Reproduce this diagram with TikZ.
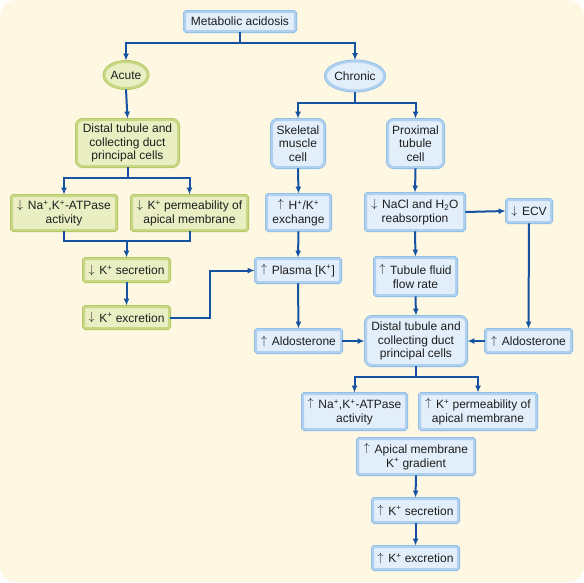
\documentclass[tikz,border=0pt]{standalone}
\usepackage{fontspec}
\setmainfont{Liberation Sans}
\usetikzlibrary{arrows.meta,shapes.geometric}
\definecolor{cream}{HTML}{FEF8E3}
\definecolor{bfill}{HTML}{E2EEFA}
\definecolor{bline}{HTML}{AFD0EF}
\definecolor{bdark}{HTML}{86B6E4}
\definecolor{gfill}{HTML}{EAEEC3}
\definecolor{gline}{HTML}{C8D783}
\definecolor{gdark}{HTML}{AFC35A}
\definecolor{arrc}{HTML}{1652A2}
\definecolor{txt}{HTML}{1E1E1E}
\newcommand{\sps}{\textsuperscript{+}}
\newcommand{\upa}{\raisebox{0.14em}{$\uparrow$}\hspace{0.12em}}
\newcommand{\dna}{\raisebox{0.14em}{$\downarrow$}\hspace{0.12em}}
\tikzset{
  x=1pt,y=-1pt,
  base/.style={font=\fontsize{12}{13.7}\selectfont, text=txt, align=center, inner sep=0pt, line width=2.4pt},
  bbox/.style={base, draw=bline, fill=bfill, rectangle, rounded corners=1.5pt, preaction={draw=bdark, line width=3.6pt}},
  gbox/.style={base, draw=gline, fill=gfill, rectangle, rounded corners=1.5pt, preaction={draw=gdark, line width=3.6pt}},
  rbox/.style={rounded corners=6pt},
  ell/.style={base, ellipse, inner sep=0pt},
  sz/.style 2 args={minimum width={#1pt-3.6pt}, minimum height={#2pt-3.6pt}},
  arr/.style={draw=arrc, line width=2pt, -{Latex[length=7pt,width=6pt]}},
  ln/.style={draw=arrc, line width=2pt},
}
\begin{document}
\begin{tikzpicture}
\useasboundingbox (0,0) rectangle (584,582);
\fill[white] (0,0) rectangle (584,582);
\fill[cream, rounded corners=16pt] (0,0) rectangle (584,582);

\node[bbox, sz={114}{23}] (meta) at (240,21.5) {Metabolic acidosis};
\node[ell, draw=gline, fill=gfill, preaction={draw=gdark, line width=3.6pt}, sz={45}{30}] (acute) at (126,75) {Acute};
\node[ell, draw=bline, fill=bfill, preaction={draw=bdark, line width=3.6pt}, sz={57}{33}] (chronic) at (355,76) {Chronic};

\node[gbox, rbox, sz={105}{50}] (gdistal) at (127.5,143) {Distal tubule and\\collecting duct\\principal cells};
\node[gbox, sz={108}{38}] (gna) at (64,213) {\dna{} Na\sps,K\sps-ATPase\\activity};
\node[gbox, sz={119}{38}] (gperm) at (189.5,213) {\dna{} K\sps{} permeability of\\apical membrane};
\node[gbox, sz={89}{26}] (gksec) at (126.5,270) {\dna{} K\sps{} secretion};
\node[gbox, sz={89}{25}] (gkexc) at (126.5,317.5) {\dna{} K\sps{} excretion};

\node[bbox, rbox, sz={56}{51}] (skel) at (298,143.5) {Skeletal\\muscle\\cell};
\node[bbox, rbox, sz={59}{51}] (prox) at (415.5,143.5) {Proximal\\tubule\\cell};
\node[bbox, sz={67}{39}] (hk) at (298.5,212.5) {\upa{} H\sps/K\sps\\exchange};
\node[bbox, sz={102}{40}] (nacl) at (415,212) {\dna{} NaCl and H\textsubscript{2}O\\reabsorption};
\node[bbox, sz={48}{26}] (ecv) at (529,211) {\dna{} ECV};
\node[bbox, sz={88}{27}] (plasma) at (298,270.5) {\upa{} Plasma [K\sps]};
\node[bbox, sz={85}{41}] (tubule) at (415.5,276.5) {\upa{} Tubule fluid\\flow rate};
\node[bbox, rbox, sz={104}{52}] (bdistal) at (416,341) {Distal tubule and\\collecting duct\\principal cells};
\node[bbox, sz={89}{26}] (laldo) at (298.5,341) {\upa{} Aldosterone};
\node[bbox, sz={89}{26}] (raldo) at (528.5,341) {\upa{} Aldosterone};
\node[bbox, sz={107}{39}] (bna) at (354.5,411.5) {\upa{} Na\sps,K\sps-ATPase\\activity};
\node[bbox, sz={120}{39}] (bperm) at (478,411.5) {\upa{} K\sps{} permeability of\\apical membrane};
\node[bbox, sz={120}{39}] (grad) at (416,456.5) {\upa{} Apical membrane\\K\sps{} gradient};
\node[bbox, sz={89}{27}] (bksec) at (415.5,510.5) {\upa{} K\sps{} secretion};
\node[bbox, sz={89}{26}] (bkexc) at (415.5,558) {\upa{} K\sps{} excretion};

\coordinate (j1) at (240,43);
\coordinate (j2) at (127.5,178);
\coordinate (j3) at (126.5,241);
\coordinate (j4) at (210,317.5);
\coordinate (j5) at (355,103);
\coordinate (j6) at (416,377);

\draw[ln] (meta.south) -- (j1);
\draw[arr] (j1) -| (acute.north);
\draw[arr] (j1) -| (chronic.north);
\draw[arr] (acute.south) -- (gdistal.north);
\draw[ln] (gdistal.south) -- (j2);
\draw[arr] (j2) -| (gna.north);
\draw[arr] (j2) -| (gperm.north);
\draw[ln] (gna.south) |- (j3);
\draw[ln] (gperm.south) |- (j3);
\draw[arr] (j3) -- (gksec.north);
\draw[arr] (gksec.south) -- (gkexc.north);
\draw[arr] (gkexc.east) -- (j4) |- (plasma.west);

\draw[ln] (chronic.south) -- (j5);
\draw[arr] (j5) -| (skel.north);
\draw[arr] (j5) -| (prox.north);
\draw[arr] (skel.south) -- (hk.north);
\draw[arr] (hk.south) -- (plasma.north);
\draw[arr] (plasma.south) -- (laldo.north);
\draw[arr] (prox.south) -- (nacl.north);
\draw[arr] (nacl.east) -- (ecv.west);
\draw[arr] (nacl.south) -- (tubule.north);
\draw[arr] (tubule.south) -- (bdistal.north);
\draw[arr] (ecv.south) -- (raldo.north);
\draw[arr] (laldo.east) -- (bdistal.west);
\draw[arr] (raldo.west) -- (bdistal.east);
\draw[ln] (bdistal.south) -- (j6);
\draw[arr] (j6) -| (bna.north);
\draw[arr] (j6) -| (bperm.north);
\draw[arr] (grad.south) -- (bksec.north);
\draw[arr] (bksec.south) -- (bkexc.north);
\end{tikzpicture}
\end{document}
